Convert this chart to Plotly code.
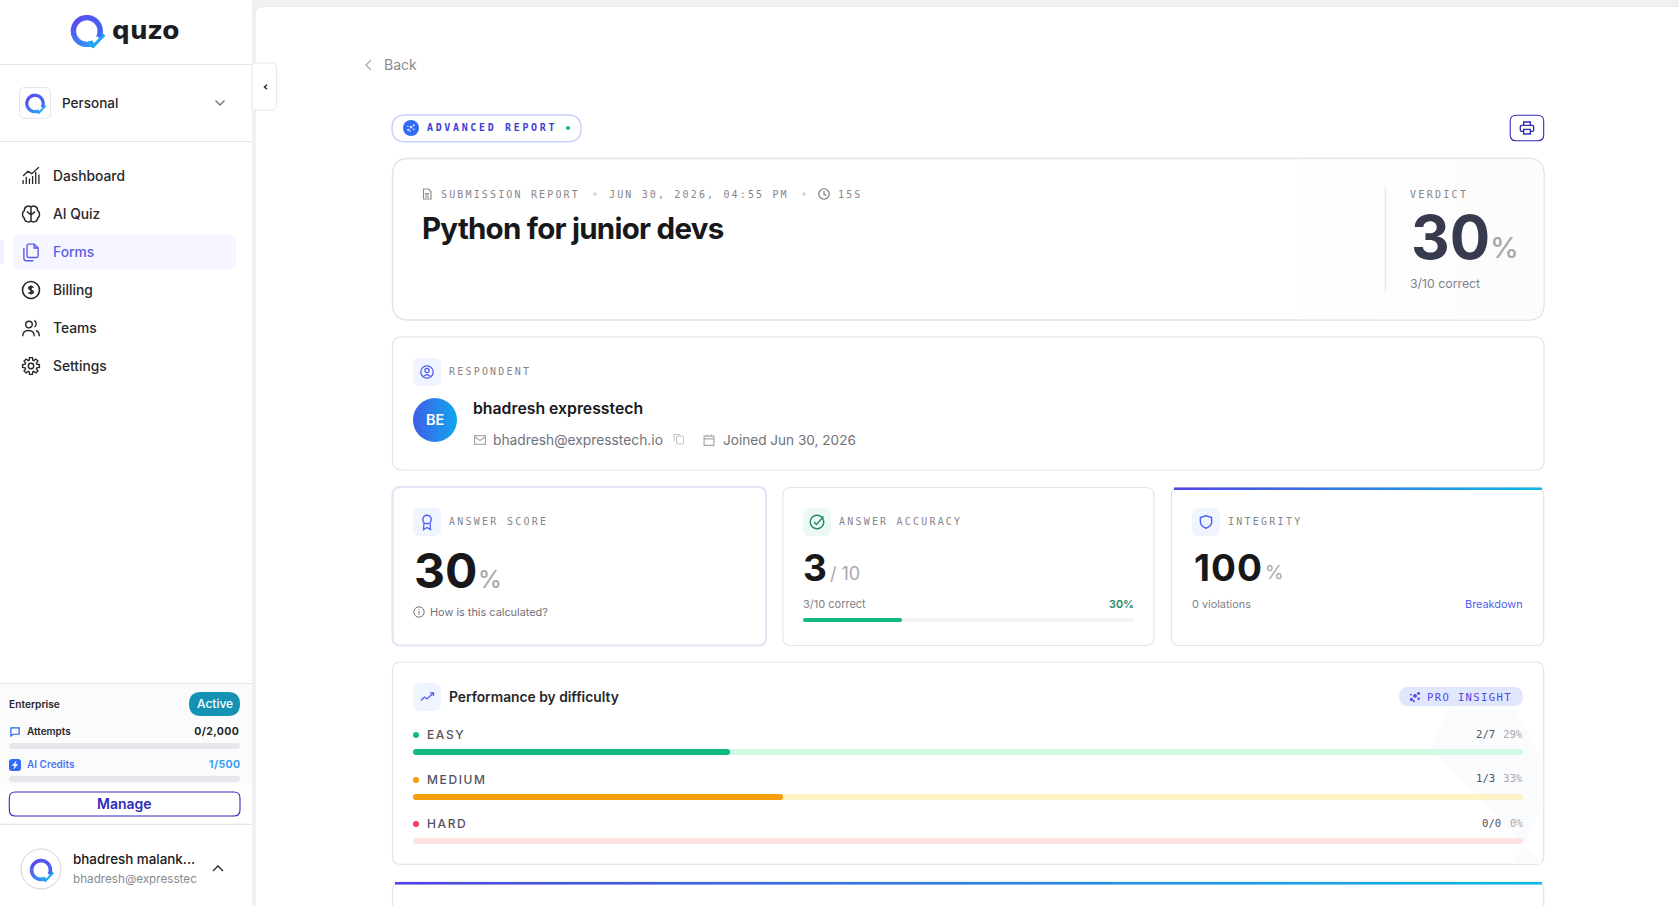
""" Quiz submission report page drawn on one plotly pixel canvas """
import json
import math
import re
import plotly.graph_objects as go

# data
nav_labels = ["Dashboard", "AI Quiz", "Forms", "Billing", "Teams", "Settings"]
usage_labels = ["Attempts", "AI Credits"]
usage_text = ["0/2,000", "1/500"]
difficulty_labels = ["EASY", "MEDIUM", "HARD"]
difficulty_correct = [2, 1, 0]
difficulty_total = [7, 3, 0]
accuracy_correct = 3
accuracy_total = 10
score_pct = 30
integrity_pct = 100
violations = 0

W, H = 1679, 906
INTER = "Inter"
MONO = "DejaVu Sans Mono"
INK = "#18181b"
GRAY = "#71717a"
LABEL = "#85858d"
LIGHT = "#a8a8b0"
BORDER = "#e4e4e7"
INDIGO = "#4f5ef0"
NAVY = "#2f2cb8"
BLUE_BOX = "#eff4ff"

shapes = []
annotations = []
spacing = {}


def rrect(x0, y0, x1, y1, r=8, fill="rgba(0,0,0,0)", line=None, lw=1):
    if isinstance(r, (int, float)):
        r = (r, r, r, r)
    tl, tr, br, bl = r
    d = (f"M {x0+tl} {y0} L {x1-tr} {y0} Q {x1} {y0} {x1} {y0+tr} L {x1} {y1-br} Q {x1} {y1} {x1-br} {y1} "
         f"L {x0+bl} {y1} Q {x0} {y1} {x0} {y1-bl} L {x0} {y0+tl} Q {x0} {y0} {x0+tl} {y0} Z")
    shapes.append(dict(type="path", path=d, fillcolor=fill, layer="below",
                       line=dict(color=line or "rgba(0,0,0,0)", width=lw if line else 0)))


def circle(cx, cy, r, fill="rgba(0,0,0,0)", line=None, lw=1.3):
    shapes.append(dict(type="circle", x0=cx-r, x1=cx+r, y0=cy-r, y1=cy+r, fillcolor=fill, layer="below",
                       line=dict(color=line or "rgba(0,0,0,0)", width=lw if line else 0)))


def poly(points, color, lw=1.3, close=False, fill="rgba(0,0,0,0)"):
    d = "M " + " L ".join(f"{x} {y}" for x, y in points) + (" Z" if close else "")
    shapes.append(dict(type="path", path=d, fillcolor=fill, layer="below", line=dict(color=color, width=lw)))


def icon(d, cx, cy, size, color, lw=1.3):
    # d is written in a 24 box with absolute M L C Z only
    k = size / 24
    out, is_x = [], True
    for tok in re.findall(r"[MLCZ]|-?\d+\.?\d*", d):
        if tok in "MLCZ":
            out.append(tok)
            is_x = True
        else:
            v = float(tok) - 12
            out.append(str(round((cx if is_x else cy) + v * k, 2)))
            is_x = not is_x
    shapes.append(dict(type="path", path=" ".join(out), fillcolor="rgba(0,0,0,0)", layer="below",
                       line=dict(color=color, width=lw)))


def txt(x, y, text, size=14, color=INK, family=INTER, weight=400, anchor="left", ls=None):
    # plotly sits the text a bit right and low of the box asked for
    if anchor == "left":
        x -= 1
    if family == INTER:
        y -= 0.4
    annotations.append(dict(x=x, y=y, text=text, xref="x", yref="y", showarrow=False, xanchor=anchor,
                            yanchor="middle", align=anchor, borderpad=0,
                            font=dict(family=family, size=size, color=color, weight=weight)))
    if ls is not None:
        spacing[text] = ls


def mix(c0, c1, t):
    a = [int(c0[i:i+2], 16) for i in (1, 3, 5)]
    b = [int(c1[i:i+2], 16) for i in (1, 3, 5)]
    return "#" + "".join(f"{round(p+(q-p)*t):02x}" for p, q in zip(a, b))


def gradient_bar(x0, x1, y0, y1, c0="#4f46e5", c1="#0fb8e6", n=40):
    step = (x1 - x0) / n
    for i in range(n):
        shapes.append(dict(type="rect", x0=x0+i*step, x1=x0+(i+1)*step+0.5, y0=y0, y1=y1, layer="below",
                           fillcolor=mix(c0, c1, i/(n-1)), line=dict(width=0)))


def q_logo(cx, cy, r, w):
    n = 16
    a0, a1 = math.radians(60), math.radians(385)
    for i in range(n):
        p = a0 + (a1-a0) * i / n
        q = a0 + (a1-a0) * (i+1.15) / n
        pts = [(cx + r*math.cos(p + (q-p)*j/4), cy + r*math.sin(p + (q-p)*j/4)) for j in range(5)]
        poly(pts, mix("#2f9cf5", "#5a4df0", min(1, i/7)) if i < 8 else mix("#5a4df0", "#3f6cf2", (i-8)/8), w)
    k = r / 13
    poly([(cx+0.5*k, cy+11*k), (cx+6*k, cy+15*k), (cx+17*k, cy+3.5*k)], "#1ea5f5", w*0.58)


def gear(cx, cy, r):
    pts = []
    for i in range(8):
        a = i * math.pi / 4
        for da, rr in ((-0.30, r*0.72), (-0.17, r), (0.17, r), (0.30, r*0.72)):
            pts.append((cx + rr*math.cos(a+da), cy + rr*math.sin(a+da)))
    poly(pts, "#27272a", 1.4, close=True)
    circle(cx, cy, r*0.32, line="#27272a", lw=1.4)


def sparkle_dots(cx, cy, color, k=1.0):
    for dx, dy, r in ((-3, 2, 1.3), (0, -1, 1.6), (3, -3, 1.2), (3, 1.5, 1.0), (-1, 3.5, 0.9), (-3.5, -2, 0.8)):
        circle(cx+dx*k, cy+dy*k, r*k, fill=color)


# page frame
shapes.append(dict(type="rect", x0=252, x1=W, y0=0, y1=H, fillcolor="#f1f1f3", line=dict(width=0), layer="below"))
rrect(255, 6.5, W+20, H+20, r=(8, 0, 0, 0), fill="white", line="#e8e8ea", lw=1)
shapes.append(dict(type="rect", x0=0, x1=252, y0=0, y1=H, fillcolor="white", line=dict(width=0), layer="below"))
for yy in (64.5, 141.5, 683.7, 824.3):
    poly([(0, yy), (252, yy)], "#e4e4e7", 1.2)
rrect(252, 63, 276.5, 110, r=(0, 5, 5, 0), fill="white", line="#e8e8ea")
poly([(267, 84.8), (264.5, 87), (267, 89.2)], "#27272a", 1.4)

# sidebar top
q_logo(86.8, 31, 13.4, 5.4)
txt(112, 30, "quzo", 25, "#1c1c22", "DejaVu Sans", 700)
rrect(19.5, 87.5, 50.5, 118.5, r=6, fill="white", line=BORDER)
q_logo(35, 103.5, 8.2, 3.2)
txt(61.5, 103, "Personal", 13.5, "#27272a", weight=500)
poly([(215.5, 100.5), (220, 105), (224.5, 100.5)], GRAY, 1.3)

# nav
rrect(0, 240, 4, 264, r=(0, 4, 4, 0), fill="#eef2ff")
rrect(13, 234, 236, 270, r=8, fill="#f5f6ff")
nav_y = [176, 214, 252, 290, 328, 366]
for label, yy in zip(nav_labels, nav_y):
    txt(53.3, yy, label, 13.8, "#5b5ce6" if label == "Forms" else "#27272a", weight=500)
icon("M2 22 L2 17 M6 22 L6 13 M10 22 L10 15 M14 22 L14 12 M18 22 L18 7 M22 22 L22 10 M2 12 L8 6 L13 9 L22 1", 31, 176, 19, "#27272a")
icon("M12 4 C9 1 4 3 4 8 C1 10 1 15 4 17 C4 21 10 23 12 20 C14 23 20 21 20 17 C23 15 23 10 20 8 C20 3 15 1 12 4 Z M12 4 L12 20 M12 13 L7 9 M12 13 L17 9", 31, 214, 20, "#27272a", 1.5)
icon("M9 2 L16 2 L21 7 L21 17 C21 18 20 19 19 19 L9 19 C8 19 7 18 7 17 L7 4 C7 3 8 2 9 2 Z M16 2 L16 7 L21 7 M3 7 L3 20 C3 22 4 23 6 23 L15 23", 31, 252, 19, "#5b5ce6", 1.4)
circle(31, 290, 8.5, line="#27272a", lw=1.6)
icon("M15 9 C15 7 9 7 9 9.5 C9 12 15 12 15 14.5 C15 17 9 17 9 15 M12 6 L12 18", 31, 290, 18, "#27272a", 1.6)
icon("M2 22 C2 17 5 15 9 15 C13 15 16 17 16 22 M16 3 C19 4 19 10 16 11 M18 15 C21 16 22 19 22 22", 31, 328, 20, "#27272a", 1.4)
circle(29, 324.5, 3.3, line="#27272a", lw=1.4)
gear(31, 366, 8.5)

# plan box
shapes.append(dict(type="rect", x0=0, x1=252, y0=684.5, y1=785, fillcolor="#fbfbfc", line=dict(width=0), layer="below"))
txt(9.3, 704.3, "Enterprise", 10.2, "#27272a", weight=600)
rrect(189, 692, 240, 716, r=12, fill="#1492b3")
txt(214.5, 703.5, "Active", 12, "white", weight=500, anchor="center")
icon("M3 4 L21 4 L21 18 L8 18 L3 22 Z", 15, 731.5, 11, "#2563eb", 1.2)
txt(27, 731.5, usage_labels[0], 10, "#27272a", weight=600)
txt(240, 731.5, usage_text[0], 10.5, "#27272a", weight=700, anchor="right", ls="0.4px")
rrect(9, 759, 21, 771, r=3, fill="#2f6bf6")
poly([(16, 761.5), (12.5, 765.5), (15.5, 765.5), (14, 768.5), (17.5, 764.5), (14.5, 764.5)], "white", 0.8, close=True, fill="white")
txt(27, 764.5, usage_labels[1], 10, "#4f74f2", weight=600)
txt(240.5, 764.5, usage_text[1], 10.5, "#3aa0f5", weight=700, anchor="right", ls="0.4px")
rrect(9.3, 792, 240, 816, r=6, fill="white", line=NAVY, lw=1.1)
txt(124.5, 804, "Manage", 14, NAVY, weight=600, anchor="center")

# user
circle(41, 869, 20, fill="white", line="#d4d4d8", lw=1)
q_logo(41, 870, 9.4, 3.6)
txt(73, 859, "bhadresh malank...", 13.4, INK, weight=500)
txt(73, 879, "bhadresh@expresstec", 11.7, "#8a8a92")
poly([(213, 871), (218, 866), (223, 871)], "#27272a", 1.4)

# back + header
poly([(371, 60), (366, 65), (371, 70)], LIGHT, 1.2)
txt(384, 65, "Back", 14, "#8a8a8f")
rrect(392, 115, 581, 141.7, r=13.3, fill="white", line="#c7d0f5", lw=1.4)
circle(411, 128, 8, fill="#2f6bf6")
sparkle_dots(411, 128, "#cfe0ff", 0.9)
txt(427.3, 127.5, "ADVANCED REPORT", 10, "#3f3fd6", MONO, 700, ls="2.65px")
circle(568, 128, 2, fill="#10b981")
rrect(1510.2, 115.2, 1543.7, 140.7, r=6, fill="white", line=NAVY, lw=1.1)
icon("M7 8 L7 3 L17 3 L17 8 M7 17 L4 17 C3 17 2 16 2 15 L2 10 C2 9 3 8 4 8 L20 8 C21 8 22 9 22 10 L22 15 C22 16 21 17 20 17 L17 17 M7 14 L17 14 L17 21 L7 21 Z", 1527, 128, 16, NAVY, 1.4)

# title card
rrect(392.5, 158.5, 1544, 320, r=16, fill="white", line=BORDER, lw=1.5)
rrect(1300, 159.3, 1543.2, 319.2, r=(0, 15, 15, 0), fill="#fefefe")
rrect(1380, 159.3, 1543.2, 319.2, r=(0, 15, 15, 0), fill="#fdfdfd")
rrect(1460, 159.3, 1543.2, 319.2, r=(0, 15, 15, 0), fill="#fcfcfc")
icon("M5 2 L15 2 L20 7 L20 22 L5 22 Z M8 11 L16 11 M8 14 L16 14 M8 18 L16 18", 427, 194, 12, "#8b8b93", 1.2)
txt(441.3, 194, "SUBMISSION REPORT", 10, LABEL, MONO, ls="2.15px")
circle(595, 194, 1.8, fill="#d4d4d8")
txt(609, 194, "JUN 30, 2026, 04:55 PM", 10, LABEL, MONO, ls="2.15px")
circle(804, 194, 1.8, fill="#d4d4d8")
circle(824, 194, 5.2, line=GRAY, lw=1.1)
poly([(824, 191), (824, 194.3), (826.2, 195.4)], GRAY, 1.1)
txt(838, 194, "15S", 10, LABEL, MONO, ls="2.15px")
txt(421.5, 228, "Python for junior devs", 29.5, INK, weight=700, ls="-0.75px")
poly([(1385.3, 187), (1385.3, 292)], BORDER, 1)
txt(1410, 194, "VERDICT", 10, LABEL, MONO, ls="2.3px")
txt(1411, 237.5, str(score_pct), 60, "#383a4d", weight=700)
txt(1490, 248, "%", 29, LIGHT, weight=500)
txt(1410, 283.5, f"{accuracy_correct}/{accuracy_total} correct", 12.3, "#808088")

# respondent card
rrect(392.5, 337, 1544, 470, r=9, fill="white", line=BORDER, lw=1.2)
rrect(413, 358, 441, 386, r=7, fill=BLUE_BOX)
circle(427, 372, 6.2, line=INDIGO, lw=1.3)
circle(427, 370.5, 2.1, line=INDIGO, lw=1.2)
poly([(423.2, 376.5), (427, 374.5), (430.8, 376.5)], INDIGO, 1.2)
txt(449.3, 371, "RESPONDENT", 10, LABEL, MONO, ls="2.2px")
txt(472.7, 409, "bhadresh expresstech", 15.8, INK, weight=600)
icon("M2 4 L22 4 L22 20 L2 20 Z M2 6 L12 13 L22 6", 480, 440, 13, LIGHT, 1.2)
txt(493.3, 440, "bhadresh@expresstech.io", 13.8, GRAY)
rrect(676.5, 436, 683.5, 444, r=1.5, line="#c4c4cc", lw=1.1)
poly([(674, 441), (674, 434.5), (680, 434.5)], "#c4c4cc", 1.1)
icon("M3 5 L21 5 L21 22 L3 22 Z M3 10 L21 10 M8 2 L8 6 M16 2 L16 6", 709, 440, 13, LIGHT, 1.2)
txt(722.5, 440, "Joined Jun 30, 2026", 13.6, GRAY)

# stat cards
rrect(392.5, 487, 766, 645.5, r=8, fill="white", line="#e0e4f5", lw=2)
rrect(782.8, 487.5, 1154, 645.5, r=8, fill="white", line=BORDER, lw=1.2)
rrect(1171.5, 487.5, 1543.7, 645.5, r=8, fill="white", line=BORDER, lw=1.2)
gradient_bar(1174, 1541.5, 487.5, 490)

rrect(413, 508, 441, 536, r=7, fill=BLUE_BOX)
circle(427, 519.5, 4.2, line=INDIGO, lw=1.4)
poly([(424, 523), (423.5, 529.5), (427, 527.5), (430.5, 529.5), (430, 523)], INDIGO, 1.3)
txt(449.3, 521, "ANSWER SCORE", 10, LABEL, MONO, ls="2.25px")
txt(413.5, 571, str(score_pct), 48, INK, weight=700)
txt(478, 579.5, "%", 24, LIGHT, weight=500)
circle(419, 612, 5.2, line=GRAY, lw=1)
poly([(419, 611), (419, 614.5)], GRAY, 1)
poly([(419, 609), (419, 609.8)], GRAY, 1)
txt(429.5, 612, "How is this calculated?", 10.9, GRAY)

rrect(803, 508, 831, 536, r=7, fill="#edf9f4")
circle(817, 522, 6.8, line="#1f8a64", lw=1.4)
poly([(814, 522), (816.5, 524.5), (823.5, 516.5)], "#1f8a64", 1.4)
txt(839, 521, "ANSWER ACCURACY", 10, LABEL, MONO, ls="2.2px")
txt(802.5, 567.5, str(accuracy_correct), 37, INK, weight=700)
txt(830, 574, f"/ {accuracy_total}", 18, LIGHT)
txt(803, 604, f"{accuracy_correct}/{accuracy_total} correct", 11, "#808088")
txt(1134.5, 604, f"{round(100*accuracy_correct/accuracy_total)}%", 10.9, "#1f8a64", weight=600, anchor="right")

rrect(1192, 508, 1220, 536, r=7, fill=BLUE_BOX)
icon("M12 2 L21 5 L21 12 C21 17 17 20 12 22 C7 20 3 17 3 12 L3 5 Z", 1206, 522, 15, INDIGO, 1.4)
txt(1228, 521, "INTEGRITY", 10, LABEL, MONO, ls="2.25px")
txt(1194, 568, str(integrity_pct), 37, INK, weight=700, ls="1px")
txt(1265, 572.5, "%", 19, LIGHT)
txt(1192, 604, f"{violations} violations", 10.9, "#808088")
txt(1523.5, 604, "Breakdown", 10.9, INDIGO, anchor="right")

# performance card
rrect(392.5, 662, 1543.7, 864.3, r=8, fill="white", line=BORDER, lw=1.2)
poly([(1430, 749), (1450, 709), (1515, 709), (1543, 760), (1543, 805), (1513, 864), (1543, 864)], "rgba(0,0,0,0)", 0, close=True, fill="#fafbfd")
rrect(413, 683, 441, 711, r=7, fill=BLUE_BOX)
poly([(421, 700.5), (424.5, 697), (427, 699), (433.5, 692.8)], INDIGO, 1.3)
poly([(430, 692.8), (433.5, 692.8), (433.5, 696)], INDIGO, 1.3)
txt(449.3, 697, "Performance by difficulty", 13.8, "#27272a", weight=600)
rrect(1399, 687, 1523, 706, r=9.5, fill="#e0e7fd")
sparkle_dots(1415, 697, "#4f46e5", 1.2)
txt(1427.3, 696.5, "PRO INSIGHT", 10.5, "#4f46e5", MONO, ls="1.4px")

dot_colors = ["#10b981", "#f59e0b", "#f43f5e"]
label_y = [735, 780, 824]
value_y = [734, 778, 823]
for i, label in enumerate(difficulty_labels):
    circle(416, label_y[i], 3, fill=dot_colors[i])
    txt(427.3, label_y[i], label, 12, "#52525b", weight=500, ls="1.6px")
    pct = round(100 * difficulty_correct[i] / difficulty_total[i]) if difficulty_total[i] else 0
    pct_text = f"{pct}%"
    txt(1523.5, value_y[i], pct_text, 10.7, LIGHT, MONO, anchor="right")
    txt(1523.5 - 6.45 * len(pct_text) - 8.5, value_y[i], f"{difficulty_correct[i]}/{difficulty_total[i]}", 10.7, "#52525b", MONO, anchor="right")

# next card, cut by the window
rrect(392.5, 882, 1543.7, H+30, r=8, fill="white", line=BORDER, lw=1.2)
gradient_bar(395, 1541.5, 882, 884.6)

# progress bars
track_x, track_w, track_y, track_h, track_c = [], [], [], [], []
fill_x, fill_w, fill_y, fill_h, fill_c = [], [], [], [], []


def progress(x0, width, yc, h, frac, track, color):
    track_x.append(x0)
    track_w.append(width)
    track_y.append(yc)
    track_h.append(h)
    track_c.append(track)
    if frac > 0:
        fill_x.append(x0)
        fill_w.append(width * frac)
        fill_y.append(yc)
        fill_h.append(h)
        fill_c.append(color)


track_colors = ["#d1fae5", "#fef3c7", "#fee2e2"]
bar_y = [752, 797, 841]
for i in range(len(difficulty_labels)):
    frac = difficulty_correct[i] / difficulty_total[i] if difficulty_total[i] else 0
    progress(413, 1110, bar_y[i], 6, frac, track_colors[i], dot_colors[i])
progress(803, 330.5, 620, 4, accuracy_correct / accuracy_total, "#f4f4f5", "#10b981")
progress(9, 231, 746, 6, 0, "#e5e7eb", "#2563eb")
progress(9, 231, 779, 6, 0, "#e5e7eb", "#2563eb")

fig = go.Figure()
fig.add_bar(base=track_x, x=track_w, y=track_y, width=track_h, orientation="h",
            marker=dict(color=track_c, line=dict(width=0)), hoverinfo="skip", showlegend=False)
fig.add_bar(base=fill_x, x=fill_w, y=fill_y, width=fill_h, orientation="h",
            marker=dict(color=fill_c, line=dict(width=0)), hoverinfo="skip", showlegend=False)
# avatar with a left to right blend
fig.add_scatter(x=[435], y=[420], mode="markers", hoverinfo="skip", showlegend=False,
                marker=dict(size=44, color="#3f5ee8", line=dict(width=0),
                            gradient=dict(type="horizontal", color="#12a6ee")))
txt(435.3, 420, "BE", 14.5, "white", weight=600, anchor="center")

fig.update_layout(
    width=W, height=H,
    margin=dict(l=0, r=0, t=0, b=0),
    paper_bgcolor="white",
    plot_bgcolor="white",
    barmode="overlay",
    barcornerradius=3,
    shapes=shapes,
    annotations=annotations,
    xaxis=dict(range=[0, W], visible=False, fixedrange=True),
    yaxis=dict(range=[H, 0], visible=False, fixedrange=True),
)

js = """
document.body.style.margin = '0';
document.documentElement.style.overflow = 'hidden';
var sp = %s;
document.querySelectorAll('text.annotation-text').forEach(function (t) {
  var v = sp[t.getAttribute('data-unformatted')];
  if (v) t.style.letterSpacing = v;
});
""" % json.dumps(spacing)

fig.write_html("out.html", config=dict(displayModeBar=False), post_script=js)
